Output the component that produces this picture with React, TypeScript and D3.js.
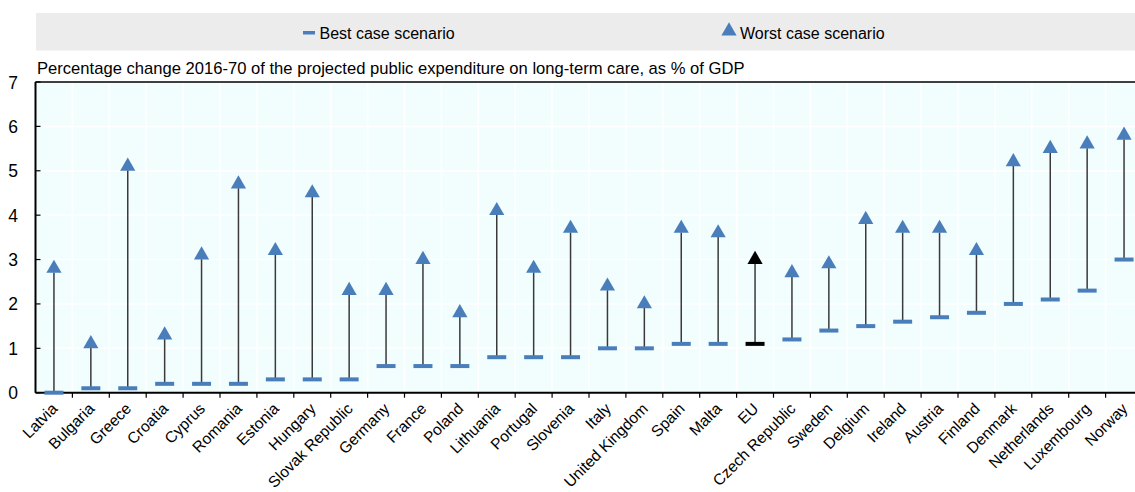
import React from "react";
import * as d3 from "d3";

const countries = [
  "Latvia", "Bulgaria", "Greece", "Croatia", "Cyprus", "Romania", "Estonia", "Hungary",
  "Slovak Republic", "Germany", "France", "Poland", "Lithuania", "Portugal", "Slovenia",
  "Italy", "United Kingdom", "Spain", "Malta", "EU", "Czech Republic", "Sweden", "Delgium",
  "Ireland", "Austria", "Finland", "Denmark", "Netherlands", "Luxembourg", "Norway",
];
const bestCase = [
  0, 0.1, 0.1, 0.2, 0.2, 0.2, 0.3, 0.3, 0.3, 0.6, 0.6, 0.6, 0.8, 0.8, 0.8,
  1.0, 1.0, 1.1, 1.1, 1.1, 1.2, 1.4, 1.5, 1.6, 1.7, 1.8, 2.0, 2.1, 2.3, 3.0,
];
const worstCase = [
  2.8, 1.1, 5.1, 1.3, 3.1, 4.7, 3.2, 4.5, 2.3, 2.3, 3.0, 1.8, 4.1, 2.8, 3.7,
  2.4, 2.0, 3.7, 3.6, 3.0, 2.7, 2.9, 3.9, 3.7, 3.7, 3.2, 5.2, 5.5, 5.6, 5.8,
];
const yTicks = [0, 1, 2, 3, 4, 5, 6, 7];
const highlight = "EU";

const W = 1135;
const H = 492;
const BLUE = "#4a7ebb";
const FONT = "'Liberation Sans', Arial, sans-serif";

export default function App() {
  const left = 35.5;
  const bandW = 36.9;
  const x = d3
    .scaleBand<string>()
    .domain(countries)
    .range([left, left + bandW * countries.length])
    .padding(0);
  const y = d3.scaleLinear().domain([0, 7]).range([392.7, 82]);
  const plotRight = left + bandW * countries.length;
  const tri = d3.symbol().type(d3.symbolTriangle).size(100);

  return (
    <div style={{ position: "absolute", left: 0, top: 0 }}>
      <svg width={W} height={H} style={{ display: "block", fontFamily: FONT }}>
        <rect x={0} y={0} width={W} height={H} fill="#ffffff" />
        {/* legend */}
        <rect x={36} y={13} width={W - 36} height={37.5} fill="#ececec" />
        <rect x={303} y={31} width={12} height={3.5} fill={BLUE} />
        <text x={319.5} y={38.5} fontSize={16} fill="#000">Best case scenario</text>
        <path d={tri()!} transform="translate(729,31)" fill={BLUE} />
        <text x={740} y={38.5} fontSize={16} fill="#000">Worst case scenario</text>

        {/* plot background */}
        <rect x={left} y={y(7)} width={plotRight - left} height={y(0) - y(7)} fill="#f2fefe" />
        {yTicks.slice(1, -1).map((t) => (
          <line key={"gy" + t} x1={left} x2={plotRight} y1={y(t)} y2={y(t)} stroke="#ffffff" strokeWidth={1.5} />
        ))}
        {countries.slice(1).map((c) => (
          <line key={"gx" + c} x1={x(c)!} x2={x(c)!} y1={y(7)} y2={y(0)} stroke="#ffffff" strokeWidth={1.5} />
        ))}

        {/* axes frame */}
        <line x1={left} x2={plotRight} y1={y(7)} y2={y(7)} stroke="#000" strokeWidth={1.5} />
        <line x1={left} x2={left} y1={y(7)} y2={y(0)} stroke="#000" strokeWidth={2} />
        <line x1={left} x2={plotRight} y1={y(0)} y2={y(0)} stroke="#000" strokeWidth={2} />
        {yTicks.map((t) => (
          <g key={"yt" + t}>
            <line x1={left} x2={left + 5} y1={y(t)} y2={y(t)} stroke="#000" strokeWidth={1.2} />
            <text x={13} y={y(t) + 6.5} fontSize={17.5} textAnchor="middle" fill="#000">{t}</text>
          </g>
        ))}
        {countries.slice(1).map((c) => (
          <line key={"xt" + c} x1={x(c)!} x2={x(c)!} y1={y(0)} y2={y(0) + 5} stroke="#000" strokeWidth={1.2} />
        ))}

        <text x={37} y={74} fontSize={16.6} fill="#000">
          Percentage change 2016-70 of the projected public expenditure on long-term care, as % of GDP
        </text>

        {/* ranges */}
        {countries.map((c, i) => {
          const cx = x(c)! + bandW / 2;
          const col = c === highlight ? "#000" : BLUE;
          return (
            <g key={"m" + c}>
              <line x1={cx} x2={cx} y1={y(bestCase[i])} y2={y(worstCase[i]) + 4} stroke="#3a3a3a" strokeWidth={1.5} />
              <rect x={cx - 9.5} y={y(bestCase[i]) - 2} width={19} height={4} fill={col} />
              <path d={tri()!} transform={`translate(${cx},${y(worstCase[i])})`} fill={col} />
            </g>
          );
        })}

        {/* category labels */}
        {countries.map((c) => {
          const cx = x(c)! + bandW / 2 + 4.5;
          return (
            <text
              key={"xl" + c}
              x={0}
              y={0}
              fontSize={15.6}
              textAnchor="end"
              fill="#000"
              transform={`translate(${cx},${y(0) + 17}) rotate(-45)`}
            >
              {c}
            </text>
          );
        })}
      </svg>
    </div>
  );
}
